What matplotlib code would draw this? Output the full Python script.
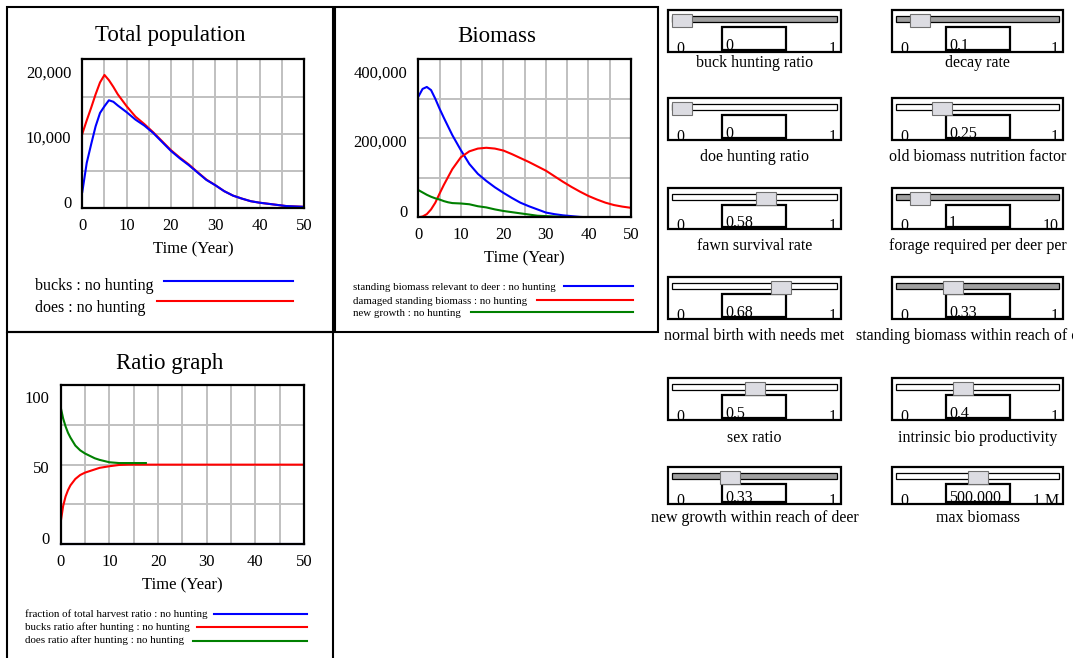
import matplotlib
matplotlib.use("Agg")
import matplotlib.pyplot as plt
from matplotlib.patches import Rectangle

plt.rcParams["font.family"] = ["Liberation Serif", "DejaVu Serif"]

# --- data ---
years = [0, 1, 2, 3, 4, 5, 6, 7, 8, 10, 12, 14, 16, 18, 20, 22, 24, 26, 28, 30,
         32, 34, 36, 38, 40, 42, 44, 46, 48, 50]

bucks = [2200, 6100, 8600, 11000, 12800, 13700, 14500, 14300, 13800, 12900,
         11900, 11100, 10100, 8900, 7700, 6700, 5800, 4800, 3800, 3100,
         2300, 1700, 1300, 950, 750, 600, 450, 300, 250, 200]
does = [10000, 11800, 13500, 15300, 16900, 17900, 17200, 16300, 15300, 13700,
        12300, 11300, 10200, 9000, 7800, 6800, 5900, 4850, 3850, 3100,
        2300, 1700, 1300, 950, 750, 600, 450, 300, 250, 200]

standing = [305000, 325000, 330000, 322000, 300000, 275000, 252000, 230000, 208000, 170000,
            135000, 110000, 92000, 76000, 62000, 49000, 37000, 28000, 20000, 12000,
            8000, 5000, 3000, 1000, 0, 0, 0, 0, 0, 0]
damaged = [0, 2000, 8000, 20000, 37000, 60000, 82000, 102000, 122000, 152000,
           167000, 174000, 176000, 174000, 169000, 160000, 150000, 140000, 129000, 118000,
           104000, 90000, 77000, 65000, 54000, 45000, 37000, 31000, 27000, 24000]
growth_years = [0, 1, 2, 3, 4, 5, 6, 7, 8, 10, 12, 14, 16, 18, 20, 22, 24, 26, 28, 30,
                32, 34, 36, 38]
new_growth = [69000, 63000, 57000, 52000, 48000, 45000, 41000, 38000, 36000, 35000,
              33000, 28000, 25000, 20000, 16000, 13000, 10000, 7000, 4000, 3000,
              2000, 1000, 500, 0]

harvest_years = [0, 50]
harvest_ratio = [0, 0]
bucks_ratio_years = [0, 0.5, 1, 1.5, 2, 3, 4, 5, 6, 7, 8, 10, 12, 14, 20, 30, 40, 50]
bucks_ratio = [14, 24, 30, 34, 37, 41, 43.5, 45, 46, 47, 48, 49, 49.8, 50, 50, 50, 50, 50]
does_ratio_years = [0, 0.5, 1, 1.5, 2, 3, 4, 5, 6, 7, 8, 10, 12, 14, 16, 17.5]
does_ratio = [86, 79, 74, 70, 67, 62, 59, 57, 55.5, 54, 53, 51.5, 51, 51, 51, 51]

x_ticks = list(range(0, 51, 5))
x_labels = ["0", "", "10", "", "20", "", "30", "", "40", "", "50"]

slider_names = ["buck hunting ratio", "decay rate",
                "doe hunting ratio", "old biomass nutrition factor",
                "fawn survival rate", "forage required per deer per",
                "normal birth with needs met", "standing biomass within reach of deer",
                "sex ratio", "intrinsic bio productivity",
                "new growth within reach of deer", "max biomass"]
slider_values = [0, 0.1, 0, 0.25, 0.58, 1, 0.68, 0.33, 0.5, 0.4, 0.33, 500000]
slider_max = [1, 1, 1, 1, 1, 10, 1, 1, 1, 1, 1, 1000000]
slider_value_text = ["0", "0.1", "0", "0.25", "0.58", "1", "0.68", "0.33", "0.5", "0.4", "0.33", "500,000"]
slider_max_text = ["1", "1", "1", "1", "1", "10", "1", "1", "1", "1", "1", "1 M"]
track_fill = ["#a0a0a0", "#a0a0a0", "white", "white", "white", "#a0a0a0",
              "white", "#a0a0a0", "white", "white", "#a0a0a0", "white"]

BLUE, RED, GREEN = "#0000ff", "#ff0000", "#008000"

# --- figure in pixel units ---
W, H = 1073, 658
fig = plt.figure(figsize=(W / 100, H / 100), dpi=100)
fig.patch.set_facecolor("white")

bg = fig.add_axes([0, 0, 1, 1])
bg.set_xlim(0, W)
bg.set_ylim(H, 0)
bg.axis("off")


def box(x0, y0, x1, y1, lw=1.5, fc="none", ec="black", z=2):
    bg.add_patch(Rectangle((x0, y0), x1 - x0, y1 - y0, fill=(fc != "none"),
                           facecolor=fc, edgecolor=ec, lw=lw, zorder=z))


# panel frames
box(7, 7, 333, 332)
box(335, 7, 658, 332)
box(7, 332, 333, 664)


def make_axes(l, t, r, b, ymax, yticks, ylabels):
    ax = fig.add_axes([l / W, 1 - b / H, (r - l) / W, (b - t) / H])
    ax.set_xlim(0, 50)
    ax.set_ylim(0, ymax)
    ax.set_xticks(x_ticks)
    ax.set_xticklabels(x_labels, fontsize=12)
    ax.set_yticks(yticks)
    ax.set_yticklabels([])
    ax.tick_params(length=0)
    ax.tick_params(axis="x", pad=7)
    ax.grid(True, color="#c0c0c0", lw=1.4)
    ax.set_axisbelow(True)
    for s in ax.spines.values():
        s.set_linewidth(1.6)
    # y labels sit like Vensim's: bottom nudged up, top pushed down
    shifts = [4.5, -4.5, -14]
    for val, lab, sh in zip(ylabels[0], ylabels[1], shifts):
        ax.annotate(lab, xy=(0, val), xycoords=("axes fraction", "data"),
                    xytext=(-11, sh), textcoords="offset pixels",
                    ha="right", va="center", fontsize=12)
    return ax


def legend(x_text, rows, size):
    for text, y_base, x_line, y_line, x_end, col in rows:
        bg.text(x_text, y_base, text, fontsize=size, ha="left", va="baseline")
        bg.plot([x_line, x_end], [y_line, y_line], color=col, lw=1.5)


# --- Total population ---
ax1 = make_axes(82.3, 59.3, 304, 208.3, 20000, range(0, 20001, 5000),
                ([0, 10000, 20000], ["0", "10,000", "20,000"]))
ax1.plot(years, does, color=RED, lw=1.5)
ax1.plot(years, bucks, color=BLUE, lw=1.5)
bg.text(170, 36, "Total population", fontsize=16.5, ha="center", va="center")
bg.text(193, 249, "Time (Year)", fontsize=12, ha="center", va="center")
legend(35, [("bucks : no hunting", 290.5, 164, 281, 293, BLUE),
            ("does : no hunting", 312, 157, 301, 293, RED)], 11.5)

# --- Biomass ---
ax2 = make_axes(418.3, 59.3, 631, 217.3, 400000, range(0, 400001, 100000),
                ([0, 200000, 400000], ["0", "200,000", "400,000"]))
ax2.plot(years, standing, color=BLUE, lw=1.5)
ax2.plot(years, damaged, color=RED, lw=1.5)
ax2.plot(growth_years, new_growth, color=GREEN, lw=1.5)
bg.text(496.5, 36, "Biomass", fontsize=16.5, ha="center", va="center")
bg.text(524.6, 258, "Time (Year)", fontsize=12, ha="center", va="center")
legend(353, [("standing biomass relevant to deer : no hunting", 290, 564, 286, 633, BLUE),
             ("damaged standing biomass : no hunting", 304, 537, 300, 633, RED),
             ("new growth : no hunting", 316, 471, 312.3, 633, GREEN)], 7.8)

# --- Ratio graph ---
ax3 = make_axes(60.7, 385, 304, 544.3, 100, range(0, 101, 25),
                ([0, 50, 100], ["0", "50", "100"]))
ax3.plot(harvest_years, harvest_ratio, color=BLUE, lw=1.5, clip_on=False)
ax3.plot(bucks_ratio_years, bucks_ratio, color=RED, lw=1.5)
ax3.plot(does_ratio_years, does_ratio, color=GREEN, lw=1.5)
bg.text(170, 364, "Ratio graph", fontsize=16.5, ha="center", va="center")
bg.text(182.3, 585, "Time (Year)", fontsize=12, ha="center", va="center")
legend(25, [("fraction of total harvest ratio : no hunting", 617.3, 214, 614.3, 307, BLUE),
            ("bucks ratio after hunting : no hunting", 630, 197, 626.7, 307, RED),
            ("does ratio after hunting : no hunting", 642.7, 193, 640.7, 307, GREEN)], 7.9)

# --- sliders ---
col_x = [(668, 841), (892, 1063)]
row_top = [10, 98, 188, 277, 378, 467]
row_h = [42, 42, 41, 42, 42, 37]
row_label = [63, 157, 246, 336, 438, 518]

for i, name in enumerate(slider_names):
    r, c = divmod(i, 2)
    x0, x1 = col_x[c]
    y0 = row_top[r]
    y1 = y0 + row_h[r]
    box(x0, y0, x1, y1, lw=1.6)
    tl, tr = x0 + 4, x1 - 4
    box(tl, y0 + 6, tr, y0 + 12, lw=0.9, fc=track_fill[i])
    thumb_w = 20
    left = tl + slider_values[i] / slider_max[i] * (tr - tl - thumb_w)
    box(left, y0 + 3.5, left + thumb_w, y0 + 17, lw=0.8, fc="#dcdce2", ec="#707070", z=3)
    box(x0 + 54, y0 + 17, x0 + 118, y1 - 2.5, lw=1.6, fc="white")
    bg.text(x0 + 57, y1 - 2, slider_value_text[i], fontsize=11.5, ha="left", va="baseline", zorder=4)
    bg.text(x0 + 8, y1 + 1, "0", fontsize=11.5, ha="left", va="baseline")
    bg.text(x1 - 4, y1 + 1, slider_max_text[i], fontsize=11.5, ha="right", va="baseline")
    bg.text((x0 + x1) / 2, row_label[r], name, fontsize=11.5, ha="center", va="center")

fig.savefig("out.png", dpi=100)
